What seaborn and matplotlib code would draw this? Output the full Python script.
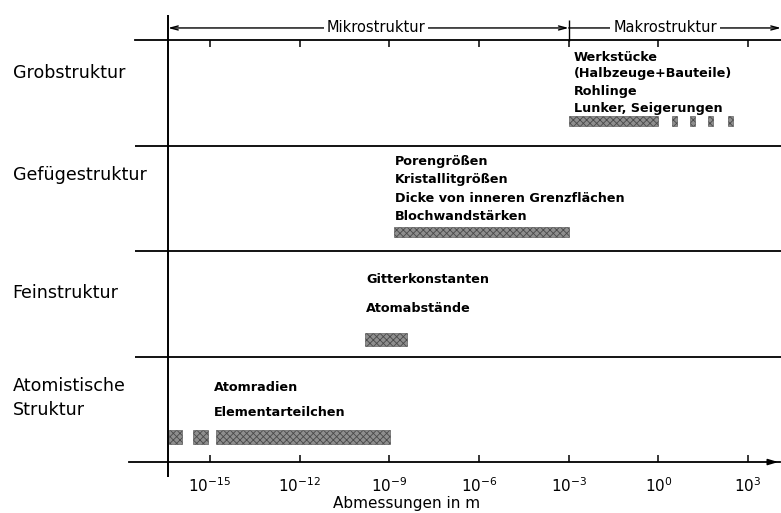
import numpy as np
import pandas as pd
import matplotlib
matplotlib.use("Agg")
import matplotlib.pyplot as plt
from matplotlib.ticker import FixedLocator, NullLocator
import seaborn as sns

# ---------------- data ----------------
row_labels = ["Grobstruktur", "Gefügestruktur", "Feinstruktur", "Atomistische\nStruktur"]
row_level = [3, 2, 1, 0]

# bar segments (log10 of size in m)
seg_row = ["Grobstruktur"] * 5 + ["Gefügestruktur"] + ["Feinstruktur"] + ["Atomistische\nStruktur"] * 3
seg_start = [-3.0, 0.45, 1.05, 1.66, 2.32, -8.85, -9.8, -16.37, -15.57, -14.80]
seg_end = [0.0, 0.62, 1.22, 1.82, 2.49, -3.0, -8.4, -15.94, -15.07, -8.98]

notes_grob = ["Werkstücke", "(Halbzeuge+Bauteile)", "Rohlinge", "Lunker, Seigerungen"]
notes_gefuege = ["Porengrößen", "Kristallitgrößen", "Dicke von inneren Grenzflächen", "Blochwandstärken"]
notes_fein = ["Gitterkonstanten", "Atomabstände"]
notes_atom = ["Atomradien", "Elementarteilchen"]

tick_exponents = [-15, -12, -9, -6, -3, 0, 3]
tick_labels = [r"$10^{-15}$", r"$10^{-12}$", r"$10^{-9}$", r"$10^{-6}$", r"$10^{-3}$", r"$10^{0}$", r"$10^{3}$"]
xlabel = "Abmessungen in m"
micro_label = "Mikrostruktur"
macro_label = "Makrostruktur"
boundary_exp = -3

# ---------------- style ----------------
sns.set_theme(style="white")
plt.rcParams["font.family"] = ["DejaVu Sans"]
plt.rcParams["mathtext.fontset"] = "dejavusans"
plt.rcParams["text.color"] = "black"
plt.rcParams["xtick.color"] = "black"
plt.rcParams["hatch.linewidth"] = 0.6

df = pd.DataFrame({"row": seg_row, "start": np.power(10.0, seg_start), "end": np.power(10.0, seg_end)})
lvl = dict(zip(row_labels, row_level))
bar_off = {"Grobstruktur": 0.23, "Gefügestruktur": 0.18, "Feinstruktur": 0.16, "Atomistische\nStruktur": 0.237}
bar_h = {"Grobstruktur": 0.095, "Gefügestruktur": 0.095, "Feinstruktur": 0.12, "Atomistische\nStruktur": 0.13}
df["y"] = [lvl[r] + bar_off[r] for r in df["row"]]
df["h"] = [bar_h[r] for r in df["row"]]
df["width"] = df["end"] - df["start"]

fig = plt.figure(figsize=(7.81, 5.13), dpi=100)
ax = fig.add_axes([0, 0, 1, 1])
ax.set_xscale("log")
ax.set_xlim(10 ** -22.02, 10 ** 4.10)
ax.set_ylim(-0.483, 4.379)
ax.patch.set_alpha(0)

ax.barh(df["y"], df["width"], left=df["start"], height=df["h"],
        color="#8e8e8e", edgecolor="#4a4a4a", hatch="xxxxx", linewidth=0.4)

# spines / axes
for s in ["left", "right"]:
    ax.spines[s].set_visible(False)
ax.spines["bottom"].set_position(("data", 0))
ax.spines["bottom"].set_bounds(10 ** -17.7, 10 ** 4.05)
ax.spines["top"].set_position(("data", 4))
ax.spines["top"].set_bounds(10 ** -17.5, 10 ** 4.10)
for s in ["bottom", "top"]:
    ax.spines[s].set_color("black")
    ax.spines[s].set_linewidth(1.3)

ticks = [10.0 ** e for e in tick_exponents]
ax.xaxis.set_major_locator(FixedLocator(ticks))
ax.xaxis.set_minor_locator(NullLocator())
ax.set_xticklabels(tick_labels)
ax.tick_params(axis="x", which="major", direction="in", length=5, width=1.1, color="black",
               top=True, bottom=True, labeltop=False, labelbottom=True, labelsize=11, pad=10)
ax.set_yticks([])

# arrow at end of x axis
ax.annotate("", xy=(10 ** 4.10, 0), xytext=(10 ** 3.6, 0),
            arrowprops=dict(arrowstyle="-|>,head_length=0.5,head_width=0.15", lw=1.1, color="black"))

# separators
ax.hlines([1, 2, 3], 10 ** -17.5, 10 ** 4.10, color="black", lw=1.3)
# vertical left line
x_left = 10 ** -16.4
ax.vlines(x_left, -0.142, 4.237, color="black", lw=1.4)

# micro / macro arrows
y_arr = 4.114
ax.annotate("", xy=(x_left, y_arr), xytext=(10.0 ** boundary_exp, y_arr),
            arrowprops=dict(arrowstyle="<->,head_length=0.45,head_width=0.12", lw=1.0, color="black",
                            shrinkA=0, shrinkB=0))
ax.annotate("", xy=(10.0 ** boundary_exp, y_arr), xytext=(10 ** 4.10, y_arr),
            arrowprops=dict(arrowstyle="<-,head_length=0.45,head_width=0.12", lw=1.0, color="black",
                            shrinkA=0, shrinkB=0))
ax.vlines(10.0 ** boundary_exp, 3.99, 4.19, color="black", lw=1.0)
ax.text(10 ** -9.45, y_arr, micro_label, ha="center", va="center", fontsize=10.5,
        bbox=dict(facecolor="white", edgecolor="none", pad=2))
ax.text(10 ** 0.22, y_arr, macro_label, ha="center", va="center", fontsize=10.5,
        bbox=dict(facecolor="white", edgecolor="none", pad=2))

# row labels
label_y = [3.69, 2.72, 1.6, 0.607]
for lab, yy in zip(row_labels, label_y):
    ax.text(10 ** -21.6, yy, lab, ha="left", va="center", fontsize=12.6, linespacing=1.38)

# notes
def put_notes(notes, x_exp, baselines):
    for t, b in zip(notes, baselines):
        ax.text(10 ** x_exp, b, t, ha="left", va="baseline", fontsize=9.2, fontweight="bold")

put_notes(notes_grob, -2.83, [3.804, 3.645, 3.479, 3.320])
put_notes(notes_gefuege, -8.81, [2.815, 2.645, 2.464, 2.294])
put_notes(notes_fein, -9.78, [1.697, 1.422])
put_notes(notes_atom, -14.87, [0.673, 0.436])

ax.text(10 ** -8.41, -0.395, xlabel, ha="center", va="center", fontsize=11)

fig.savefig("out.png", dpi=100)
